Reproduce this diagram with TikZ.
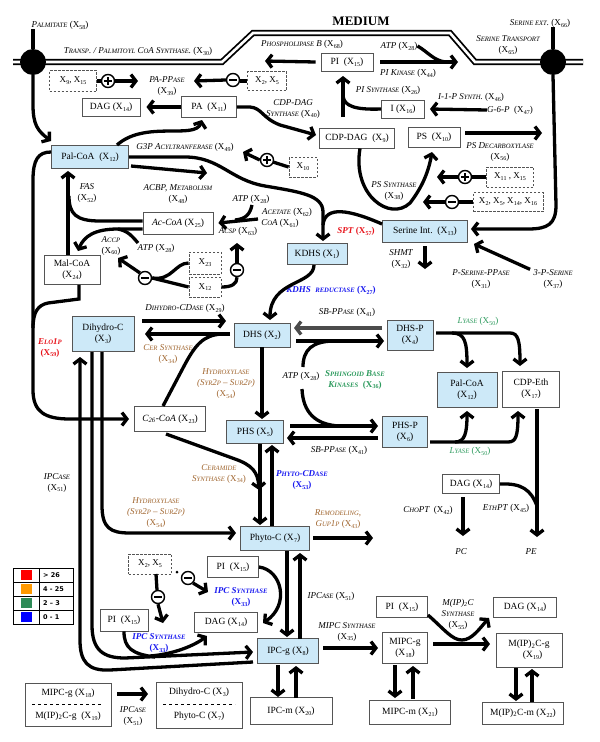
\documentclass[tikz,border=0pt]{standalone}
\usepackage{fontspec}
\setmainfont{Liberation Serif}
\newfontfamily\legfont{DejaVu Sans}
\usetikzlibrary{arrows.meta,calc}
\definecolor{boxblue}{HTML}{CDE9F8}
\definecolor{cred}{HTML}{E8141C}
\definecolor{corange}{HTML}{A0652E}
\definecolor{cgreen}{HTML}{2E9B5E}
\definecolor{cblue}{HTML}{1A1AF0}
\definecolor{boxgray}{HTML}{555555}
\definecolor{lgreen}{HTML}{2E8B57}
\definecolor{lorange}{HTML}{FF9900}
\newcommand\sm[1]{{\fontsize{6.7}{7}\selectfont #1}}
\newcommand\xs[1]{X\kern.2pt\raisebox{-.45ex}{\fontsize{6}{6}\selectfont #1}}
\newcommand\xp[1]{\textup{(\xs{#1})}}
\tikzset{
  box/.style={draw=boxgray, line width=0.9pt, fill=white, inner sep=0pt, align=center, font=\fontsize{9.5}{11}\selectfont},
  bbox/.style={box, fill=boxblue},
  sz/.style 2 args={minimum width=#1pt, minimum height=#2pt},
  dbox/.style={draw=boxgray, dash pattern=on 2.5pt off 1.5pt, line width=0.8pt, inner sep=0pt, font=\fontsize{9}{10}\selectfont},
  lab/.style={inner sep=0pt, align=center, font=\fontsize{9}{11}\selectfont\itshape},
  labr/.style={lab, text=cred, font=\fontsize{9}{11}\selectfont\itshape\bfseries},
  labo/.style={lab, text=corange},
  labg/.style={lab, text=cgreen},
  labgb/.style={lab, text=cgreen, font=\fontsize{9}{11}\selectfont\itshape\bfseries},
  labb/.style={lab, text=cblue, font=\fontsize{9}{11}\selectfont\itshape\bfseries},
  ln/.style={line width=3.3pt},
  arr/.style={line width=3.3pt, -{Straight Barb[length=5pt,width=13pt]}},
  sgn/.style={circle, draw, line width=1.4pt, fill=white, minimum size=13pt, inner sep=0pt},
  sgnminus/.style={sgn, path picture={\draw[line width=1.8pt] ([xshift=-4pt]path picture bounding box.center) -- ([xshift=4pt]path picture bounding box.center);}},
  sgnplus/.style={sgn, path picture={\draw[line width=1.8pt] ([xshift=-4pt]path picture bounding box.center) -- ([xshift=4pt]path picture bounding box.center) ([yshift=-4pt]path picture bounding box.center) -- ([yshift=4pt]path picture bounding box.center);}},
  bigdot/.style={circle, fill=black, minimum size=26pt, inner sep=0pt}
}
\begin{document}
\begin{tikzpicture}[x=1pt,y=-1pt]
\useasboundingbox (0,0) rectangle (600,742);
\fill[white] (0,0) rectangle (600,742);

% membrane
\draw[line width=1.8pt, double=white, double distance=2.6pt] (13,62) -- (222,62) -- (253,33) -- (450,33) -- (475,62) -- (583,62);
\node[font=\fontsize{13}{15}\selectfont\bfseries] (lMed) at (361,21) {MEDIUM};

% ---------- labels ----------
\node[lab] (lPalm) at (60,25) {P\sm{ALMITATE} \xp{58}};
\node[lab] (lTransp) at (138,51) {T\sm{RANSP}. / P\sm{ALMITOYL} C\sm{O}A S\sm{YNTHASE}. \xp{30}};
\node[lab] (lPhosB) at (302,44) {P\sm{HOSPHOLIPASE} B \xp{68}};
\node[lab] (lAtpA) at (399,46) {ATP \xp{28}};
\node[lab] (lPiK) at (408,73) {PI K\sm{INASE} \xp{44}};
\node[lab] (lSerExt) at (540,23) {S\sm{ERINE EXT}. \xp{66}};
\node[lab] (lSerTr) at (508,45) {S\sm{ERINE} T\sm{RANSPORT}\\\xp{65}};
\node[lab] (lPaPP) at (167,86) {PA-PP\sm{ASE}\\\xp{39}};
\node[lab] (lPiS) at (388,90) {PI S\sm{YNTHASE} \xp{26}};
\node[lab] (lCdpS) at (293,108.5) {CDP-DAG\\S\sm{YNTHASE} \xp{40}};
\node[lab] (lI1P) at (471,97) {I-1-P S\sm{YNTH}. \xp{46}};
\node[lab] (lG6P) at (510,110) {G-6-P~ \xp{47}};
\node[lab] (lG3P) at (185,147) {G3P A\sm{CYLTRANFERASE} \xp{49}};
\node[lab] (lPsD) at (500,151.5) {PS D\sm{ECARBOXYLASE}\\\xp{56}};
\node[lab] (lPsS) at (394,190.5) {PS S\sm{YNTHASE}\\\xp{38}};
\node[lab] (lFas) at (87,193) {FAS\\\xp{52}};
\node[lab] (lAcbp) at (178,194) {ACBP, M\sm{ETABOLISM}\\\xp{48}};
\node[lab] (lAtpB) at (251,199) {ATP \xp{28}};
\node[lab] (lAcet) at (287,212) {A\sm{CETATE} \xp{62}};
\node[lab] (lCoa) at (280,223) {C\sm{O}A \xp{61}};
\node[lab] (lAcsp) at (238,231) {A\sm{CSP} \xp{63}};
\node[lab] (lAccp) at (111,245.5) {A\sm{CCP}\\\xp{60}};
\node[lab] (lAtpC) at (156,248) {ATP \xp{28}};
\node[labr] (lSpt) at (356,231) {SPT \xp{57}};
\node[lab] (lShmt) at (401,259) {SHMT\\\xp{32}};
\node[lab] (lPSerP) at (481,279) {P-S\sm{ERINE}-PP\sm{ASE}\\\xp{31}};
\node[lab] (l3PS) at (553,279) {3-P-S\sm{ERINE}\\\xp{37}};
\node[labb] (lKdhsR) at (331,290) {KDHS~ \sm{REDUCTASE} \xp{27}};
\node[lab] (lDhC) at (185,308) {D\sm{IHYDRO}-CD\sm{ASE} \xp{29}};
\node[lab] (lSbA) at (347,312) {SB-PP\sm{ASE} \xp{41}};
\node[labg] (lLyA) at (478,321) {L\sm{YASE} \xp{50}};
\node[labr] (lElo) at (50,347.5) {E\sm{LO}1\sm{P}\\\xp{59}};
\node[labo] (lCerA) at (168,354) {C\sm{ER} S\sm{YNTHASE}\\\xp{34}};
\node[labo] (lHydA) at (226,384) {H\sm{YDROXYLASE}\\(S\sm{YR}2\sm{P} -- S\sm{UR}2\sm{P})\\\xp{54}};
\node[lab] (lAtpD) at (301,376) {ATP \xp{28}};
\node[labgb] (lSbk) at (355,379.5) {S\sm{PHINGOID} B\sm{ASE}\\K\sm{INASES}~ \xp{36}};
\node[lab] (lSbB) at (339,450) {SB-PP\sm{ASE} \xp{41}};
\node[labg] (lLyB) at (470,451) {L\sm{YASE} \xp{50}};
\node[labo] (lCerB) at (219,473.5) {C\sm{ERAMIDE}\\S\sm{YNTHASE} \xp{34}};
\node[labb] (lPhyC) at (302,480) {P\sm{HYTO}-CD\sm{ASE}\\\xp{53}};
\node[lab] (lIpcA) at (57,482.5) {IPC\sm{ASE}\\\xp{51}};
\node[labo] (lHydB) at (156,513) {H\sm{YDROXYLASE}\\(S\sm{YR}2\sm{P} -- S\sm{UR}2\sm{P})\\\xp{54}};
\node[lab] (lCho) at (428,510) {C\sm{HO}PT~ \xp{42}};
\node[lab] (lEth) at (506,508) {E\sm{TH}PT \xp{45}};
\node[labo] (lRem) at (338,519) {R\sm{EMODELING},\\G\sm{UP}1\sm{P} \xp{43}};
\node[lab] (lPc) at (461,552) {PC};
\node[lab] (lPe) at (531,552) {PE};
\node[labb] (lIpcSA) at (241,597) {IPC S\sm{YNTHASE}\\\xp{33}};
\node[lab] (lIpcB) at (331,596) {IPC\sm{ASE} \xp{51}};
\node[lab] (lMip2) at (458,614) {M(IP)\textsubscript{2}C\\S\sm{YNTHASE}\\\xp{55}};
\node[lab] (lMipcS) at (347,631.5) {MIPC S\sm{YNTHASE}\\\xp{35}};
\node[labb] (lIpcSB) at (159,643) {IPC S\sm{YNTHASE}\\\xp{33}};
\node[lab] (lIpcC) at (133,716) {IPC\sm{ASE}\\\xp{51}};

% ---------- boxes ----------
\node[box, sz={58}{18}] (dagA) at (111,107) {DAG (\xs{14})};
\node[box, sz={55}{21}] (pa) at (209,107) {PA~ (\xs{11})};
\node[box, sz={52}{18}] (piA) at (347,62) {PI~ (\xs{15})};
\node[box, sz={43}{18}] (iX) at (403,109) {I (\xs{16})};
\node[box, sz={75}{20}] (cdpdag) at (357,138) {CDP-DAG~ (\xs{9})};
\node[box, sz={52}{20}] (ps) at (434,137) {PS~ (\xs{10})};
\node[bbox, sz={77}{23}] (palcoa) at (90,157) {Pal-CoA~ (\xs{12})};
\node[box, sz={70}{22}] (accoa) at (178,223) {\textit{Ac-CoA} (\xs{25})};
\node[box, sz={56}{29}] (malcoa) at (72,270) {Mal-CoA\\(\xs{24})};
\node[bbox, sz={60}{21}] (kdhs) at (317,254) {KDHS (\xs{1})};
\node[bbox, sz={85}{22}] (serine) at (425,231) {Serine Int.~~(\xs{13})};
\node[bbox, sz={62}{35}] (dihc) at (103,334) {Dihydro-C\\(\xs{3})};
\node[bbox, sz={56}{24}] (dhs) at (262,335) {DHS (\xs{2})};
\node[bbox, sz={46}{30}] (dhsp) at (410,335) {DHS-P\\(\xs{4})};
\node[bbox, sz={60}{35}] (palcoaB) at (467,390) {Pal-CoA\\(\xs{12})};
\node[box, sz={57}{36}] (cdpeth) at (531,389) {CDP-Eth\\(\xs{17})};
\node[box, sz={71}{25}] (c26) at (170,419) {\textit{C\textsubscript{26}-CoA} (\xs{23})};
\node[bbox, sz={57}{23}] (phs) at (255,432) {PHS (\xs{5})};
\node[bbox, sz={45}{31}] (phsp) at (405,432) {PHS-P\\(\xs{6})};
\node[box, sz={57}{19}] (dagB) at (471,484) {DAG (\xs{14})};
\node[bbox, sz={69}{24}] (phytoc) at (275,538) {Phyto-C (\xs{7})};
\node[box, sz={51}{21}] (piC) at (233,567) {PI~ (\xs{15})};
\node[box, sz={63}{20}] (dagC) at (226,622) {DAG (\xs{14})};
\node[box, sz={48}{22}] (piB) at (124,620) {PI~ (\xs{15})};
\node[bbox, sz={61}{25}] (ipcg) at (288,651) {IPC-g (\xs{8})};
\node[box, sz={51}{21}] (piD) at (402,607) {PI~ (\xs{15})};
\node[box, sz={45}{31}] (mipcg) at (405,648) {MIPC-g\\(\xs{18})};
\node[box, sz={63}{20}] (dagD) at (525,607) {DAG (\xs{14})};
\node[box, sz={66}{34}] (mip2cg) at (529,650) {M(IP)\textsubscript{2}C-g\\~~~(\xs{19})};
\node[box, sz={82}{27}] (ipcm) at (291,711) {IPC-m (\xs{20})};
\node[box, sz={81}{24}] (mipcm) at (410,712) {MIPC-m (\xs{21})};
\node[box, sz={81}{22}] (mip2cm) at (523,713) {M(IP)\textsubscript{2}C-m (\xs{22})};
\node[box, sz={86}{43}] (legL) at (68,705) {};
\node[box, sz={86}{46}] (legR) at (199,705) {};
\node[font=\fontsize{9.5}{11}\selectfont, inner sep=0pt] (legL1) at (68,693) {MIPC-g (\xs{18})};
\node[font=\fontsize{9.5}{11}\selectfont, inner sep=0pt] (legL2) at (68,716) {M(IP)\textsubscript{2}C-g~ (\xs{19})};
\node[font=\fontsize{9.5}{11}\selectfont, inner sep=0pt] (legR1) at (199,692) {Dihydro-C (\xs{3})};
\node[font=\fontsize{9.5}{11}\selectfont, inner sep=0pt] (legR2) at (199,716) {Phyto-C (\xs{7})};
\draw[dashed, line width=0.5pt] (32,704) -- (103,704);
\draw[dashed, line width=0.5pt] (163,704) -- (235,704);

% dashed boxes
\node[dbox, sz={47}{21}] (dA) at (73,81) {\xs{9}, \xs{15}};
\node[dbox, sz={39}{19}] (dB) at (267,81) {\xs{2}, \xs{5}};
\node[dbox, sz={28}{20}] (dC) at (303,167) {\xs{10}};
\node[dbox, sz={47}{20}] (dD) at (510,177) {\xs{11} , \xs{15}};
\node[dbox, sz={70}{19}] (dE) at (508,202) {\xs{2}, \xs{5}, \xs{14}, \xs{16}};
\node[dbox, sz={32}{22}] (dF) at (205,263) {\xs{23}};
\node[dbox, sz={32}{20}] (dG) at (205,287) {\xs{12}};
\node[dbox, sz={43}{20}] (dH) at (150,564) {\xs{2}, \xs{5}};

% big dots on membrane
\node[bigdot] (palcirc) at (33,62) {};
\node[bigdot] (sercirc) at (553,62) {};
\draw[ln] (lPalm.south -| palcirc) -- (palcirc);
\draw[ln] (lSerExt.south -| sercirc) -- (sercirc);

% ---------- connectors ----------
\draw[arr] (palcirc.south) -- (33,105) .. controls (33,125) and (38,131) .. (51,141);
\draw[arr] (sercirc.south) -- (556,205) .. controls (556,224) and (548,229) .. (528,229) -- ([xshift=3pt,yshift=2pt]serine.east);

\draw[ln] (dA.east) -- (101,81);
\node[sgnplus] (pA) at (108,81) {};
\draw[arr] (pA.east) -- (138,81);
\draw[ln] (dB.west) -- (240,81);
\node[sgnminus] (mA) at (233,80) {};
\draw[arr] (mA.west) -- (194,81);
\draw[arr] (pa.west) -- ([xshift=6pt]dagA.east);

\draw[arr] ([xshift=-5pt]piA.west) -- (265,61);
\draw[arr] ([xshift=7pt]piA.east) -- (458,62);
\draw[ln] (lAtpA.east) .. controls (428,52) and (434,61) .. (446,62);
\draw[arr] (343,117) -- (343,76);
\draw[ln] (iX.west) .. controls (355,110) and (344,106) .. (343,96);
\draw[arr] (lG6P.west) -- ([xshift=5pt]iX.east);

\draw[arr] (pa.east) -- (250,107) .. controls (262,108) and (262,118) .. (280,125) -- (316,135);
\draw[arr] ([xshift=5pt,yshift=4pt]ps.east) -- (542,133);
\draw[arr] ([xshift=3pt]cdpdag.south) .. controls (352,195) and (390,222) .. (410,203) .. controls (420,190) and (428,175) .. (432,152);
\draw[ln] (dD.west) -- (471,177);
\node[sgnplus] (pC) at (465,177) {};
\draw[arr] (pC.west) -- (437,177);
\draw[ln] (dE.west) -- (458,202);
\node[sgnminus] (mB) at (452,202) {};
\draw[arr] (mB.west) -- (423,202);

\draw[arr] (117,145) .. controls (145,120) and (195,140) .. (202,120);
\draw[ln] (dC.west) -- (273,162);
\node[sgnplus] (pB) at (267,160) {};
\draw[arr] (pB.west) -- (243,152);

\draw[arr] (131,166) -- (207,173);
\draw[arr] (palcoa.east) -- (185,157) .. controls (220,157) and (230,180) .. (265,186) .. controls (300,192) and (323,195) .. (323,212) -- (323,241);
\draw[ln] ([yshift=7pt]serine.west) .. controls (350,210) and (325,205) .. (323,225);

\draw[arr] ([xshift=-4pt]malcoa.north) -- ([xshift=-22pt,yshift=-2pt]palcoa.south);
\draw[ln] ([yshift=2pt]accoa.west) -- (100,221) .. controls (76,221) and (69,214) .. (69,196);
\draw[arr] ([yshift=-6pt]accoa.west) -- (118,229) .. controls (95,229) and (84,236) .. (78,251);
\draw[ln] (138,243) .. controls (132,236) and (128,231) .. (118,229);

\node[sgnminus] (mC) at (145,278) {};
\draw[arr] (mC.north west) -- (118,258);
\draw[ln] (dF.west) .. controls (175,263) and (172,281) .. (mC.east);
\draw[ln] (dG.west) -- (mC.east);
\node[sgnminus] (mD) at (237,270) {};
\draw[arr] (mD.north) -- (237,243);
\draw[ln] (dG.east) .. controls (232,287) and (237,284) .. (mD.south);
\draw[arr] (258,219) -- ([xshift=5pt]accoa.east);
\draw[ln] (252,205) .. controls (250,214) and (246,219) .. (235,220);

\draw[arr] ([yshift=-4pt]serine.south) -- (425,269);
\draw[arr] ([xshift=-3pt]l3PS.north west) -- (474,244);

\draw[arr] ([xshift=-3pt]kdhs.south) .. controls (314,285) and (270,280) .. (270,320);

\draw[arr] (142,321) -- (226,321);
\draw[arr] (230,334) -- (145,334);
\draw[ln] (163,406) -- (183,368) .. controls (195,345) and (203,335) .. (222,334);

\draw[arr] ([yshift=5pt]palcoa.west) .. controls (38,152) and (33,160) .. (33,180) -- (33,390) .. controls (33,412) and (45,419) .. (70,419) -- (129,419);
\draw[ln] ([xshift=7pt]malcoa.south) -- (79,299) -- (48,303) .. controls (38,305) and (33,312) .. (33,328);

\draw[arr] (253,662) -- (110,670) .. controls (88,671) and (80,662) .. (80,640) -- (80,357);
\draw[arr] (92,352) -- (92,625) .. controls (92,650) and (103,658) .. (125,658) -- (253,652);
\draw[ln] (piB.south) .. controls (124,648) and (132,654) .. (155,657);
\draw[arr] (150,656) .. controls (175,654) and (195,645) .. (207,636);
\draw[arr] (102,352) -- (102,505) .. controls (102,528) and (110,533) .. (130,533) -- (236,533);

\draw[arr] (166,434) -- (235,459) .. controls (252,465) and (258,472) .. (259,490);
\draw[arr] (260,444) -- (260,525);
\draw[arr] (272,526) -- (272,445);
\draw[arr] (262,347) -- (262,419);

\draw[arr] (290,426) -- (378,426);
\draw[arr] (378,438) -- (287,438);
\draw[ln] (302,389) .. controls (303,412) and (315,425) .. (340,426);
\draw[arr, draw=black!70] (382,328) -- (294,328);
\draw[arr] (296,341) -- (384,341);
\draw[ln] (303,367) .. controls (303,350) and (312,341) .. (335,341);

\draw[arr] (436,333) -- (510,333) .. controls (518,333) and (520,340) .. (520,366);
\draw[arr] (452,333) .. controls (465,333) and (467,342) .. (467,368);
\draw[arr] (430,442) -- (508,442) .. controls (516,442) and (518,436) .. (518,411);
\draw[arr] (455,442) .. controls (465,442) and (467,433) .. (467,411);

\draw[arr] (537,409) -- (537,537);
\draw[ln] (dagB.east) .. controls (522,483) and (531,490) .. (537,506);
\draw[arr] (463,497) -- (463,536);

\draw[arr] (313,538) -- (373,538);
\draw[arr] (287,551) -- (287,637);
\draw[arr] (300,639) -- (300,553);
\draw[arr] (piC.east) .. controls (282,570) and (290,605) .. (263,623);

\draw[arr] (278,665) -- (278,697);
\draw[arr] (296,698) -- (296,666);
\draw[arr] (395,665) -- (395,698);
\draw[arr] (413,699) -- (413,666);
\draw[arr] (516,668) -- (516,701);
\draw[arr] (532,702) -- (532,669);

\draw[arr] (323,648) -- (378,648);
\draw[arr] (433,644) -- (490,644);
\draw[arr] (428,615) .. controls (445,630) and (452,640) .. (462,640) .. controls (472,640) and (480,628) .. (489,618);

\draw[ln] (156,574) -- (157,590);
\node[sgnminus] (mE) at (158,597) {};
\draw[arr] (mE.south) -- (163,623);
\fill (177,572) circle (1.5pt);
\node[sgnminus] (mF) at (188,578) {};
\draw[arr] (mF.south east) -- (208,592);

\draw[arr] (117,694) -- (148,694);

% legend
\foreach \i/\c/\t in {0/red/{> 26},1/lorange/{4 - 25},2/lgreen/{2 – 3},3/blue/{0 - 1}}{
  \node[draw, line width=0.8pt, minimum width=26pt, minimum height=14pt, inner sep=0pt] (lc\i) at (26,575+14*\i) {};
  \node[draw, line width=0.8pt, minimum width=34pt, minimum height=14pt, inner sep=0pt] (lt\i) at (56,575+14*\i) {};
  \fill[\c] (20.5,570+14*\i) rectangle (31.5,580+14*\i);
  \node[anchor=west, inner sep=0pt, font=\legfont\bfseries\fontsize{6.5}{7}\selectfont] (ltx\i) at (43,575+14*\i) {\t};
}
\end{tikzpicture}
\end{document}
